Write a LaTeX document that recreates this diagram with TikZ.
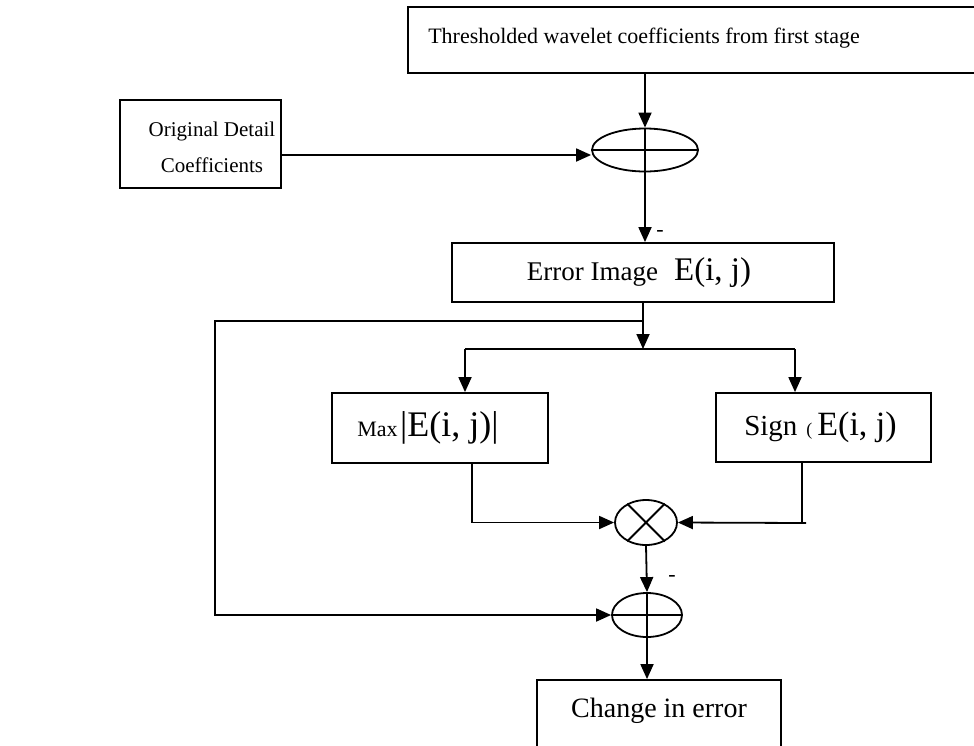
\documentclass[tikz,border=0pt]{standalone}
\usepackage{fontspec}
\setmainfont{Liberation Serif}
\usetikzlibrary{shapes.geometric,arrows.meta}
\begin{document}
\begin{tikzpicture}[x=1pt,y=-1pt,line width=1.8pt,
  box/.style={draw,rectangle,inner sep=0pt},
  junc/.style={draw,ellipse,inner sep=0pt},
  arr/.style={-{Triangle[length=15pt,width=13pt]}},
  sgnlabel/.style={font=\fontsize{22}{22}\selectfont}]
\useasboundingbox (0,0) rectangle (974,745);

% blocks
\node[box,minimum width=572pt,minimum height=66pt] (top) at (694,40) {};
\node[font=\fontsize{22}{26}\selectfont] (toptxt) at (644,38) {Thresholded wavelet coefficients from first stage};

\node[box,minimum width=161pt,minimum height=88pt] (orig) at (200.5,144) {};
\node[align=center,font=\fontsize{21}{36}\selectfont] (origtxt) at (212,147) {Original Detail\\Coefficients};

\node[junc,minimum width=106pt,minimum height=43pt] (s1) at (645,150) {};
\draw (s1.west) -- (s1.east) (s1.north) -- (s1.south);

\node[box,minimum width=382pt,minimum height=59pt] (err) at (643,272.5)
  {{\fontsize{27}{30}\selectfont Error Image}\kern16pt{\fontsize{33}{36}\selectfont E(i, j)}\kern8pt};

\node[box,minimum width=216pt,minimum height=70pt] (mx) at (440,428)
  {{\fontsize{22}{24}\selectfont Max}\ {\fontsize{36}{38}\selectfont |E(i, j)|}\kern24pt};

\node[box,minimum width=215pt,minimum height=69pt] (sg) at (823.5,427.5)
  {{\fontsize{29}{30}\selectfont Sign}\kern9pt{\fontsize{18}{20}\selectfont(}\kern5pt{\fontsize{34}{36}\selectfont E(i, j)}\kern6pt};

\node[junc,minimum width=62pt,minimum height=45pt] (mul) at (646,522.5) {};
\draw (mul.135) -- (mul.-45) (mul.45) -- (mul.-135);

\node[junc,minimum width=70pt,minimum height=44pt] (s2) at (647,615) {};
\draw (s2.west) -- (s2.east) (s2.north) -- (s2.south);

\node[box,minimum width=244pt,minimum height=90pt] (chg) at (659,725) {};
\node[font=\fontsize{28}{32}\selectfont] (chgtxt) at (659,711) {Change in error};

% sign labels
\node[sgnlabel] (m1) at (660,233) {-};
\node[sgnlabel] (m2) at (672,578) {-};

% junction points
\coordinate (tap) at (643,321);
\coordinate (fb) at (215,321);
\coordinate (split) at (643,349);
\coordinate (bL) at (465,349);
\coordinate (bR) at (795,349);
\coordinate (sgc) at (806,523);

% connectors
\draw[arr] (s1 |- top.south) -- (s1.north);
\draw[arr] ([yshift=-11pt]orig.east) -- ([yshift=-5pt]s1.west);
\draw[arr] (s1.south) -- (s1.south |- err.north);
\draw[arr] (err.south) -- (split);
\draw (bL) -- (bR);
\draw[arr] (bL) -- (bL |- mx.north);
\draw[arr] (bR) -- (bR |- sg.north);
\draw[arr] ([xshift=32pt]mx.south) |- (mul.west);
\draw ([xshift=-21.5pt]sg.south) -- ([xshift=-21.5pt]sg.south |- sgc);
\draw[arr] (sgc) -- (mul.east);
\draw[arr] (mul.south) -- (s2.north);
\draw[arr] (tap) -- (fb) -- (fb |- s2.west) -- (s2.west);
\draw[arr] (s2.south) -- (s2.south |- chg.north);
\end{tikzpicture}
\end{document}
